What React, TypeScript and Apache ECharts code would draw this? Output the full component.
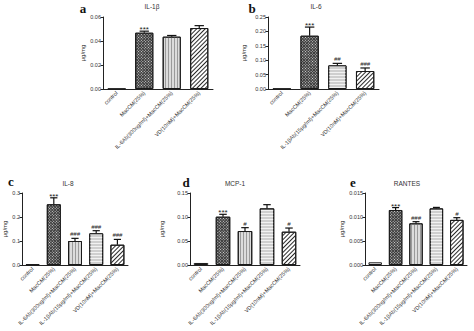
import React, { useEffect, useRef } from 'react';
import * as echarts from 'echarts';

// ---------- data ----------
const catsA = ['control', 'MacCM(25%)', 'IL-6Ab(300ng/ml)+MacCM(25%)', 'VD(10nM)+MacCM(25%)'];
const valsA = [0.0003, 0.0469, 0.0436, 0.0508];
const errA = [0, 0.0013, 0.001, 0.002];
const sigA = ['', '***', '', ''];

const catsB = ['control', 'MacCM(25%)', 'IL-1βAb(15μg/ml)+MacCM(25%)', 'VD(10nM)+MacCM(25%)'];
const valsB = [0.0015, 0.185, 0.082, 0.0625];
const errB = [0, 0.03, 0.007, 0.0105];
const sigB = ['', '***', '##', '###'];

const catsCDE = [
  'control',
  'MacCM(25%)',
  'IL-6Ab(300ng/ml)+MacCM(25%)',
  'IL-1βAb(15μg/ml)+MacCM(25%)',
  'VD(10nM)+MacCM(25%)',
];
const valsC = [0.003, 0.253, 0.1, 0.132, 0.0846];
const errC = [0, 0.027, 0.011, 0.011, 0.022];
const sigC = ['', '***', '###', '###', '###'];

const valsD = [0.0042, 0.1006, 0.0708, 0.118, 0.0694];
const errD = [0, 0.005, 0.007, 0.0077, 0.0076];
const sigD = ['', '***', '#', '', '#'];

const valsE = [0.00056, 0.01146, 0.00868, 0.0118, 0.0094];
const errE = [0, 0.0005, 0.00035, 0.0002, 0.00046];
const sigE = ['', '***', '###', '', '#'];

const titles = ['IL-1β', 'IL-6', 'IL-8', 'MCP-1', 'RANTES'];
const letters = ['a', 'b', 'c', 'd', 'e'];
const yMax = [0.06, 0.25, 0.3, 0.15, 0.015];
const yStep = [0.02, 0.05, 0.1, 0.05, 0.005];
const yDigits = [2, 2, 1, 2, 3];
const yName = 'μg/mg';

// ---------- layout ----------
const grids = [
  { left: 103, top: 17, width: 110, height: 72 },
  { left: 268, top: 17, width: 111, height: 72 },
  { left: 22, top: 193, width: 106, height: 72 },
  { left: 190, top: 193, width: 110, height: 72 },
  { left: 365, top: 193, width: 102, height: 72 },
];
const nameGaps = [15, 21, 13, 25, 19];
const titlePos = [[152, 6], [316, 6], [68, 183], [235, 183], [407, 183]];
const letterPos = [[83, 8], [252, 8], [11, 181], [186, 182], [353, 182]];

const FONT = '"Liberation Sans", Arial, sans-serif';

function styleFor(cat: string) {
  const border = { borderColor: '#1a1a1a', borderWidth: 1 };
  if (cat === 'control') return { color: '#ffffff', ...border };
  if (cat.startsWith('MacCM')) {
    return {
      color: '#3a3a3a',
      ...border,
      decal: {
        symbol: 'rect',
        symbolSize: 1,
        dashArrayX: [1, 1],
        dashArrayY: [1, 1],
        rotation: Math.PI / 4,
        color: '#d8d8d8',
      },
    };
  }
  if (cat.startsWith('IL-6Ab')) {
    return {
      color: '#dcdcdc',
      ...border,
      decal: {
        symbol: 'rect',
        symbolSize: 1,
        dashArrayX: [1, 2],
        dashArrayY: [1, 0],
        rotation: 0,
        color: '#9a9a9a',
      },
    };
  }
  if (cat.startsWith('IL-1')) {
    return {
      color: '#cfcfcf',
      ...border,
      decal: {
        symbol: 'rect',
        symbolSize: 1,
        dashArrayX: [1, 0],
        dashArrayY: [1, 2],
        rotation: 0,
        color: '#f2f2f2',
      },
    };
  }
  return {
    color: '#ffffff',
    ...border,
    decal: {
      symbol: 'rect',
      symbolSize: 1,
      dashArrayX: [1, 0],
      dashArrayY: [1, 2],
      rotation: -Math.PI / 4,
      color: '#2a2a2a',
    },
  };
}

const panels = [
  { cats: catsA, vals: valsA, errs: errA, sigs: sigA },
  { cats: catsB, vals: valsB, errs: errB, sigs: sigB },
  { cats: catsCDE, vals: valsC, errs: errC, sigs: sigC },
  { cats: catsCDE, vals: valsD, errs: errD, sigs: sigD },
  { cats: catsCDE, vals: valsE, errs: errE, sigs: sigE },
];

function makeErr(errs: number[], sigs: string[]) {
  return (params: any, api: any) => {
    const i = api.value(0);
    const v = api.value(1);
    const e = errs[params.dataIndex];
    const sig = sigs[params.dataIndex];
    const p0 = api.coord([i, v]);
    const p1 = api.coord([i, v + e]);
    const half = api.size([1, 0])[0] * 0.17;
    const children: any[] = [];
    if (e > 0) {
      children.push({
        type: 'line',
        shape: { x1: p0[0], y1: p0[1], x2: p1[0], y2: p1[1] },
        style: { stroke: '#111', lineWidth: 1.2 },
      });
      children.push({
        type: 'line',
        shape: { x1: p1[0] - half, y1: p1[1], x2: p1[0] + half, y2: p1[1] },
        style: { stroke: '#111', lineWidth: 1.2 },
      });
    }
    if (sig) {
      const isStar = sig.startsWith('*');
      children.push({
        type: 'text',
        x: p1[0],
        y: p1[1] + (isStar ? 2.5 : -1),
        style: {
          text: sig,
          fill: '#222',
          font: (isStar ? '8px ' : 'italic 6px ') + FONT,
          textAlign: 'center',
          textVerticalAlign: 'bottom',
        },
      });
    }
    return { type: 'group', children };
  };
}

export default function App() {
  const ref = useRef<HTMLDivElement>(null);
  useEffect(() => {
    document.body.style.margin = '0';
    const chart = echarts.init(ref.current!, undefined, { renderer: 'svg' });
    const xAxis: any[] = [];
    const yAxis: any[] = [];
    const series: any[] = [];
    const graphic: any[] = [];
    panels.forEach((p, k) => {
      xAxis.push({
        type: 'category',
        gridIndex: k,
        data: p.cats,
        boundaryGap: true,
        axisLine: { lineStyle: { color: '#222', width: 1 } },
        axisTick: { alignWithLabel: true, length: 2.5, lineStyle: { color: '#222' } },
        axisLabel: {
          rotate: 45,
          interval: 0,
          fontSize: 5.5,
          color: '#333',
          margin: 3,
          fontFamily: FONT,
        },
      });
      yAxis.push({
        type: 'value',
        gridIndex: k,
        min: 0,
        max: yMax[k],
        interval: yStep[k],
        name: yName,
        nameLocation: 'middle',
        nameGap: nameGaps[k],
        nameTextStyle: { fontSize: 6, color: '#333', fontFamily: FONT },
        splitLine: { show: false },
        axisLine: { show: true, lineStyle: { color: '#222', width: 1 } },
        axisTick: { show: true, length: 2.5, lineStyle: { color: '#222' } },
        axisLabel: {
          fontSize: 5.5,
          color: '#333',
          margin: 2,
          fontFamily: FONT,
          formatter: (v: number) => v.toFixed(yDigits[k]),
        },
      });
      series.push({
        type: 'bar',
        xAxisIndex: k,
        yAxisIndex: k,
        barWidth: '66%',
        data: p.vals.map((v, i) => ({ value: v, itemStyle: styleFor(p.cats[i]) })),
      });
      series.push({
        type: 'custom',
        xAxisIndex: k,
        yAxisIndex: k,
        z: 5,
        renderItem: makeErr(p.errs, p.sigs),
        data: p.vals.map((v, i) => [i, v]),
      });
      graphic.push({
        type: 'text',
        x: titlePos[k][0],
        y: titlePos[k][1],
        style: {
          text: titles[k],
          font: '6.5px ' + FONT,
          fill: '#333',
          textAlign: 'center',
          textVerticalAlign: 'middle',
        },
      });
      graphic.push({
        type: 'text',
        x: letterPos[k][0],
        y: letterPos[k][1],
        style: {
          text: letters[k],
          font: 'bold 13px "Liberation Serif", "Times New Roman", serif',
          fill: '#111',
          textAlign: 'center',
          textVerticalAlign: 'middle',
        },
      });
    });
    chart.setOption({
      animation: false,
      backgroundColor: '#ffffff',
      grid: grids.map((g) => ({ ...g, containLabel: false })),
      xAxis,
      yAxis,
      series,
      graphic,
    });
    return () => chart.dispose();
  }, []);
  return (
    <div
      ref={ref}
      style={{ position: 'absolute', left: 0, top: 0, width: 474, height: 331 }}
    />
  );
}
